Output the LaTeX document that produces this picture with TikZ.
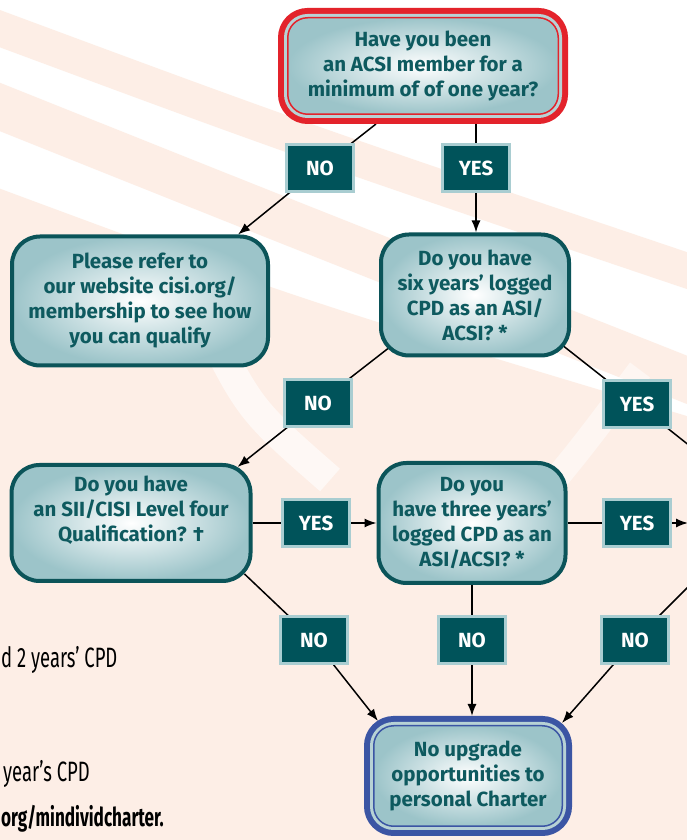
\documentclass[tikz,border=0pt]{standalone}
\usepackage{fontspec}
\setsansfont{Fira Sans}
\usepackage{tikz}
\usetikzlibrary{arrows.meta,calc,positioning,backgrounds}
\tikzset{>={Latex[length=12pt,width=9pt]}}
\definecolor{cisiteal}{HTML}{0B5459}
\definecolor{boxedge}{HTML}{9CC4C9}
\definecolor{txtteal}{HTML}{0E5A5F}
\definecolor{tagfill}{HTML}{00535A}
\definecolor{tagrim}{HTML}{A9CDD1}
\definecolor{ringred}{HTML}{E3232B}
\definecolor{ringblue}{HTML}{3B55A4}
\definecolor{ringband}{HTML}{B7D2D5}
\definecolor{peach}{HTML}{FDEEE6}
\tikzset{
  qbox/.style={shade, inner color=white, outer color=boxedge, text=txtteal,
    font=\sffamily\bfseries\fontsize{20.5}{25}\selectfont, align=center, inner sep=0pt},
  askbox/.style={qbox, draw=cisiteal, line width=4pt, rounded corners=28pt},
  ringbox/.style={qbox, draw=#1, line width=1.5pt, rounded corners=20pt, outer sep=9.75pt,
    preaction={draw=#1, line width=19.5pt}, preaction={draw=ringband, line width=7.5pt}},
  tag/.style={fill=tagfill, draw=tagrim, line width=3pt, text=white,
    font=\sffamily\bfseries\fontsize{20.5}{22}\selectfont,
    minimum width=67pt, minimum height=47pt, inner sep=0pt},
  link/.style={line width=1.5pt},
  frag/.style={font=\sffamily\fontsize{28}{30}\selectfont, xscale=0.66, transform shape, inner sep=0pt}
}
\begin{document}
\begin{tikzpicture}[x=1pt,y=1pt]
\useasboundingbox (0,0) rectangle (686,840);

\node[ringbox=ringred, minimum width=270.5pt, minimum height=96.5pt] (q1) at (423,774)
  {Have you been\\an ACSI member for a\\minimum of of one year?};
\node[askbox, minimum width=256pt, minimum height=129pt] (refer) at (140,539)
  {Please refer to\\our website cisi.org/\\membership to see how\\you can qualify};
\node[askbox, minimum width=188pt, minimum height=121pt] (six) at (475,545)
  {Do you have\\six years’ logged\\CPD as an ASI/\\ACSI? *};
\node[askbox, minimum width=239pt, minimum height=116pt] (sii) at (131,317)
  {Do you have\\an SII/CISI Level four\\Qualification? †\\[3pt]\mbox{}};
\node[askbox, minimum width=187pt, minimum height=120pt] (three) at (472,317)
  {Do you\\have three years’\\logged CPD as an\\ASI/ACSI? *};
\node[ringbox=ringblue, minimum width=188.5pt, minimum height=100.5pt] (final) at (468,64)
  {No upgrade\\opportunities to\\personal Charter};

\node[tag] (no1) at (320,672) {NO};
\node[tag] (yes1) at (476,672) {YES};
\node[tag] (no2) at (318,437) {NO};
\node[tag] (yes2) at (637,436) {YES};
\node[tag] (yes3) at (316,317) {YES};
\node[tag] (yes4) at (637,317) {YES};
\node[tag] (no3) at (314,200) {NO};
\node[tag] (no4) at (472,200) {NO};
\node[tag] (no5) at (635,200) {NO};

\node[frag, anchor=base west] (cpdtwo) at (1,172) {d 2 years’ CPD};
\node[frag, anchor=base west] (cpdone) at (3,58) {year’s CPD};
\node[frag, anchor=base west, font=\sffamily\bfseries\fontsize{26}{28}\selectfont] (url) at (1,13) {org/mindividcharter.};

\coordinate (edge1) at (700,386);
\coordinate (edge2) at (688,317);
\coordinate (edge3) at (700,265);

\begin{scope}[on background layer]
\fill[white] (0,0) rectangle (686,840);
\fill[peach] (-10,655) .. controls (300,540) .. (700,420) -- (700,-10) -- (-10,-10) -- cycle;
\draw[peach, line width=35pt] (-10,815) .. controls (300,700) .. (700,565);
\draw[peach, line width=45pt] (-10,737) .. controls (270,625) .. (700,455);
\draw[white, line width=30pt, opacity=0.6] (205,520) .. controls (250,430) .. (330,360);
\draw[white, line width=25pt, opacity=0.5] (530,330) .. controls (580,390) .. (640,470);

\draw[link] ($(q1.south)+(-47,0)$) -- (no1.center);
\draw[link,->] (no1.center) -- ($(refer.north east)+(-32,0)$);
\draw[link] (yes1 |- q1.south) -- (yes1.center);
\draw[link,->] (yes1.center) -- (yes1 |- six.north);
\draw[link] ($(six.south west)+(9,9)$) -- (no2.center);
\draw[link,->] (no2.center) -- ($(sii.north east)+(-15,-4)$);
\draw[link] ($(six.south east)+(-7,11)$) -- (yes2.center) -- (edge1);
\draw[link] (sii) -- (yes3.center);
\draw[link,->] (yes3.center) -- (three);
\draw[link] (three) -- (yes4.center);
\draw[link,->] (yes4.center) -- (edge2);
\draw[link] ($(sii.south east)+(-8,9)$) -- (no3.center);
\draw[link,->] (no3.center) -- ($(final.north west)+(14,-5)$);
\draw[link] (three) -- (no4.center);
\draw[link,->] (no4.center) -- (no4 |- final.north);
\draw[link] (edge3) -- (no5.center);
\draw[link,->] (no5.center) -- ($(final.north east)+(-10,-7)$);
\end{scope}
\end{tikzpicture}
\end{document}
